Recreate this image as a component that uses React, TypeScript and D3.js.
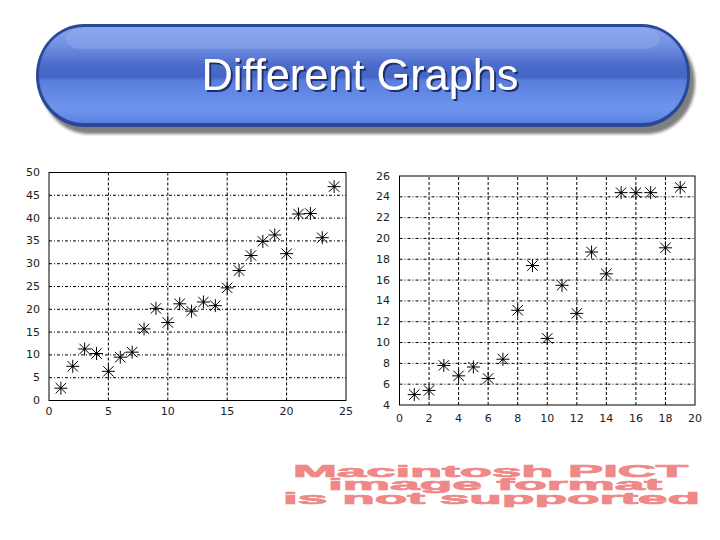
import React from "react";
import * as d3 from "d3";

const leftX = [1, 2, 3, 4, 5, 6, 7, 8, 9, 10, 11, 12, 13, 14, 15, 16, 17, 18, 19, 20, 21, 22, 23, 24];
const leftY = [2.7, 7.5, 11.3, 10.3, 6.4, 9.5, 10.6, 15.7, 20.2, 17.1, 21.2, 19.6, 21.6, 20.8, 24.7, 28.5, 31.8, 34.9, 36.3, 32.2, 40.9, 41.0, 35.7, 46.9];
const leftXTicks = [0, 5, 10, 15, 20, 25];
const leftYTicks = [0, 5, 10, 15, 20, 25, 30, 35, 40, 45, 50];

const rightX = [1, 2, 3, 4, 5, 6, 7, 8, 9, 10, 11, 12, 13, 14, 15, 16, 17, 18, 19];
const rightY = [5.0, 5.4, 7.8, 6.8, 7.65, 6.55, 8.4, 13.1, 17.4, 10.4, 15.5, 12.8, 18.7, 16.6, 24.4, 24.4, 24.4, 19.1, 24.9];
const rightXTicks = [0, 2, 4, 6, 8, 10, 12, 14, 16, 18, 20];
const rightYTicks = [4, 6, 8, 10, 12, 14, 16, 18, 20, 22, 24, 26];

const titleText = "Different Graphs";
const pictLines = ["Macintosh PICT", "image format", "is not supported"];

type PanelProps = {
  xs: number[];
  ys: number[];
  xDomain: [number, number];
  yDomain: [number, number];
  xTicks: number[];
  yTicks: number[];
  x0: number;
  x1: number;
  y0: number;
  y1: number;
  xLabelY: number;
  yLabelX: number;
};

function Star({ cx, cy, r }: { cx: number; cy: number; r: number }) {
  const d = r * 0.8;
  return (
    <g stroke="#000" strokeWidth={1} fill="none">
      <line x1={cx - r} y1={cy} x2={cx + r} y2={cy} />
      <line x1={cx} y1={cy - r} x2={cx} y2={cy + r} />
      <line x1={cx - d} y1={cy - d} x2={cx + d} y2={cy + d} />
      <line x1={cx - d} y1={cy + d} x2={cx + d} y2={cy - d} />
      <circle cx={cx} cy={cy} r={1.1} fill="#000" stroke="none" />
    </g>
  );
}

function Panel(p: PanelProps) {
  const x = d3.scaleLinear().domain(p.xDomain).range([p.x0, p.x1]);
  const y = d3.scaleLinear().domain(p.yDomain).range([p.y0, p.y1]);
  const font = "'DejaVu Sans', sans-serif";
  return (
    <g>
      {p.xTicks.slice(1, -1).map((t) => (
        <line key={"vx" + t} x1={x(t)} x2={x(t)} y1={p.y0} y2={p.y1} stroke="#000" strokeWidth={1} strokeDasharray="3,2" />
      ))}
      {p.yTicks.slice(1, -1).map((t) => (
        <line key={"hy" + t} x1={p.x0} x2={p.x1} y1={y(t)} y2={y(t)} stroke="#000" strokeWidth={1} strokeDasharray="3,2,1,2" />
      ))}
      <rect x={p.x0} y={p.y1} width={p.x1 - p.x0} height={p.y0 - p.y1} fill="none" stroke="#000" strokeWidth={1} />
      {p.xTicks.map((t) => (
        <text key={"xl" + t} x={x(t)} y={p.xLabelY} textAnchor="middle" dominantBaseline="central" fontFamily={font} fontSize={11} fill="#222">
          {t}
        </text>
      ))}
      {p.yTicks.map((t) => (
        <text key={"yl" + t} x={p.yLabelX} y={y(t)} textAnchor="end" dominantBaseline="central" fontFamily={font} fontSize={11} fill="#222">
          {t}
        </text>
      ))}
      {p.xs.map((v, i) => (
        <Star key={"s" + i} cx={x(v)} cy={y(p.ys[i])} r={6.5} />
      ))}
    </g>
  );
}

export default function App() {
  const bx = 36, by = 24, bw = 654, bh = 103, brx = 48, bry = 51;
  return (
    <svg width={720} height={540} style={{ position: "absolute", left: 0, top: 0, background: "#fff" }}>
      <defs>
        <linearGradient id="bannerFill" x1="0" y1="0" x2="0" y2="1">
          <stop offset="0" stopColor="#86a4ee" />
          <stop offset="0.2" stopColor="#6f8fe2" />
          <stop offset="0.4" stopColor="#4b6bcb" />
          <stop offset="0.52" stopColor="#4666c6" />
          <stop offset="0.56" stopColor="#5a7edc" />
          <stop offset="0.85" stopColor="#6e95ee" />
          <stop offset="1" stopColor="#5a82e0" />
        </linearGradient>
        <filter id="blur1" x="-5%" y="-20%" width="110%" height="140%">
          <feGaussianBlur stdDeviation="1.5" />
        </filter>
        <filter id="textShadow" x="-5%" y="-20%" width="110%" height="150%">
          <feDropShadow dx="2" dy="2" stdDeviation="0.6" floodColor="#1d2f6e" floodOpacity="1" />
        </filter>
      </defs>
      {/* shadow */}
      <rect x={bx + 5} y={by + 7} width={bw} height={bh} rx={brx} ry={bry} fill="#7f7f7f" filter="url(#blur1)" />
      {/* outer border */}
      <rect x={bx} y={by} width={bw} height={bh} rx={brx} ry={bry} fill="#2b4897" />
      {/* inner body */}
      <rect x={bx + 3} y={by + 3} width={bw - 6} height={bh - 7} rx={brx - 3} ry={bry - 4} fill="url(#bannerFill)" />
      {/* top highlight */}
      <rect x={bx + 30} y={by + 5} width={bw - 60} height={20} rx={14} ry={10} fill="#9ab4f2" opacity={0.35} />
      {/* title */}
      <text x={360} y={90} textAnchor="middle" fontFamily="'Liberation Sans', Arial, sans-serif" fontSize={44} fill="#ffffff" textLength={317} lengthAdjust="spacingAndGlyphs" filter="url(#textShadow)">
        {titleText}
      </text>

      <Panel
        xs={leftX}
        ys={leftY}
        xDomain={[0, 25]}
        yDomain={[0, 50]}
        xTicks={leftXTicks}
        yTicks={leftYTicks}
        x0={49}
        x1={346}
        y0={400.5}
        y1={172.5}
        xLabelY={411}
        yLabelX={40}
      />
      <Panel
        xs={rightX}
        ys={rightY}
        xDomain={[0, 20]}
        yDomain={[4, 26]}
        xTicks={rightXTicks}
        yTicks={rightYTicks}
        x0={399.5}
        x1={695}
        y0={405}
        y1={176}
        xLabelY={418}
        yLabelX={390}
      />

      {/* PICT placeholder text */}
      <g fontFamily="'Liberation Sans', Arial, sans-serif" fontWeight="bold" fontSize={16} fill="#f08888" stroke="#f08888" strokeWidth={0.7}>
        <text x={293} y={477} textLength={395} lengthAdjust="spacingAndGlyphs">{pictLines[0]}</text>
        <text x={328} y={490} textLength={334} lengthAdjust="spacingAndGlyphs">{pictLines[1]}</text>
        <text x={283} y={504} textLength={417} lengthAdjust="spacingAndGlyphs">{pictLines[2]}</text>
      </g>
    </svg>
  );
}
